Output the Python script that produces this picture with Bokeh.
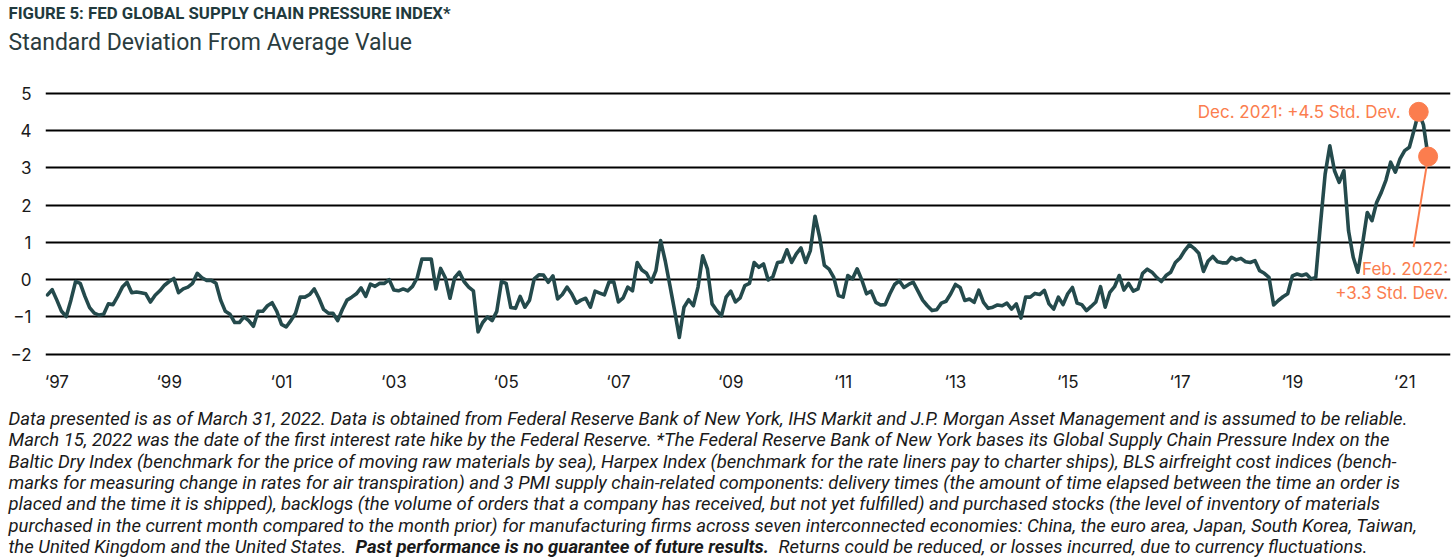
import numpy as np
import pandas as pd
from bokeh.plotting import figure
from bokeh.layouts import column
from bokeh.models import Range1d, FixedTicker, Label
from bokeh.core.properties import value
from bokeh.embed import file_html
from bokeh.resources import INLINE

# ---------------- data ----------------
start_month = "1997-07"
gscpi = [
    -0.41, -0.27, -0.55, -0.85, -0.99, -0.55, -0.05, -0.10, -0.45, -0.75,
    -0.90, -0.95, -0.93, -0.65, -0.67, -0.45, -0.20, -0.07, -0.35, -0.33,
    -0.35, -0.38, -0.60, -0.42, -0.30, -0.15, -0.05, 0.03, -0.35, -0.25,
    -0.20, -0.10, 0.17, 0.05, -0.02, -0.02, -0.10, -0.55, -0.85, -0.93,
    -1.15, -1.15, -1.00, -1.10, -1.25, -0.85, -0.85, -0.70, -0.62, -0.85,
    -1.20, -1.27, -1.10, -0.90, -0.47, -0.47, -0.40, -0.25, -0.50, -0.80,
    -0.90, -0.90, -1.10, -0.80, -0.55, -0.47, -0.38, -0.22, -0.45, -0.12,
    -0.18, -0.10, -0.10, 0.00, -0.28, -0.30, -0.25, -0.30, -0.18, 0.05,
    0.55, 0.55, 0.55, -0.25, 0.30, 0.05, -0.50, 0.05, 0.20, -0.05,
    -0.20, -0.30, -1.40, -1.15, -1.00, -1.10, -0.85, -0.05, -0.10, -0.75,
    -0.77, -0.45, -0.74, -0.55, 0.02, 0.13, 0.12, -0.07, 0.10, -0.52,
    -0.40, -0.20, -0.38, -0.63, -0.55, -0.50, -0.74, -0.31, -0.36, -0.41,
    -0.06, -0.06, -0.60, -0.49, -0.20, -0.30, 0.46, 0.26, 0.17, -0.07,
    0.24, 1.05, 0.50, -0.16, -0.83, -1.55, -0.74, -0.54, -0.70, -0.20,
    0.64, 0.29, -0.65, -0.83, -0.97, -0.47, -0.31, -0.60, -0.49, -0.16,
    -0.10, 0.46, 0.33, 0.42, -0.01, 0.08, 0.46, 0.48, 0.80, 0.46,
    0.69, 0.85, 0.46, 0.78, 1.70, 1.13, 0.38, 0.28, 0.06, -0.43,
    -0.47, 0.11, 0.02, 0.29, -0.01, -0.38, -0.31, -0.61, -0.68, -0.67,
    -0.38, -0.13, -0.03, -0.21, -0.13, -0.07, -0.31, -0.55, -0.70, -0.83,
    -0.81, -0.63, -0.58, -0.38, -0.13, -0.21, -0.56, -0.52, -0.61, -0.28,
    -0.61, -0.77, -0.74, -0.68, -0.70, -0.63, -0.79, -0.65, -1.03, -0.47,
    -0.47, -0.37, -0.40, -0.29, -0.65, -0.79, -0.47, -0.67, -0.38, -0.21,
    -0.63, -0.67, -0.83, -0.72, -0.60, -0.19, -0.74, -0.34, -0.19, 0.11,
    -0.28, -0.10, -0.31, -0.25, 0.17, 0.28, 0.20, 0.06, -0.05, 0.11,
    0.20, 0.46, 0.58, 0.78, 0.94, 0.84, 0.71, 0.22, 0.50, 0.62,
    0.48, 0.45, 0.45, 0.60, 0.53, 0.57, 0.48, 0.46, 0.51, 0.24,
    0.17, 0.06, -0.68, -0.56, -0.46, -0.38, 0.10, 0.15, 0.11, 0.15,
    0.02, 0.06, 1.49, 2.83, 3.59, 2.92, 2.61, 2.92, 1.31, 0.60,
    0.20, 0.96, 1.80, 1.58, 2.07, 2.34, 2.67, 3.15, 2.88, 3.24,
    3.46, 3.55, 4.01, 4.50, 4.15, 3.30,
]
tick_months = ["1997-09", "1999-09", "2001-09", "2003-09", "2005-09", "2007-09",
               "2009-09", "2011-09", "2013-09", "2015-09", "2017-09", "2019-09", "2021-09"]
tick_labels = ["\u201897", "\u201899", "\u201801", "\u201803", "\u201805", "\u201807",
               "\u201809", "\u201811", "\u201813", "\u201815", "\u201817", "\u201819", "\u201821"]
y_ticks = [-2, -1, 0, 1, 2, 3, 4, 5]
peak_month = "2021-12"
last_month = "2022-02"
peak_text = "Dec. 2021: +4.5 Std. Dev."
last_text = ["Feb. 2022:", "+3.3 Std. Dev."]

title = "FIGURE 5: FED GLOBAL SUPPLY CHAIN PRESSURE INDEX*"
subtitle = "Standard Deviation From Average Value"
notes = [
    "Data presented is as of March 31, 2022. Data is obtained from Federal Reserve Bank of New York, IHS Markit and J.P. Morgan Asset Management and is assumed to be reliable.",
    "March 15, 2022 was the date of the first interest rate hike by the Federal Reserve. *The Federal Reserve Bank of New York bases its  Global Supply Chain Pressure Index on the",
    "Baltic Dry Index (benchmark for the price of moving raw materials by sea), Harpex Index (benchmark for the rate liners pay to charter ships), BLS airfreight cost indices (bench-",
    "marks for measuring change in rates for air transpiration) and 3 PMI supply chain-related components: delivery times (the amount of time elapsed between the time an order is",
    "placed and the time it is shipped), backlogs (the volume of orders that a company has received, but not yet fulfilled) and purchased stocks (the level of inventory of materials",
    "purchased in the current month compared to the month prior) for manufacturing firms across seven interconnected economies: China, the euro area, Japan, South Korea, Taiwan,",
]
last_note = ["the United Kingdom and the United States.",
             "Past performance is no guarantee of future results.",
             "Returns could be reduced, or losses incurred, due to currency fluctuations."]

# ---------------- helpers ----------------
p0 = pd.Period(start_month, freq="M")
def idx(m):
    return (pd.Period(m, freq="M") - p0).n

x = np.arange(len(gscpi))

LINE = "#244a4c"
ORANGE = "#fb7d4e"
DARK = "#213a3d"
TXT = "#1a1a1a"
W = 1455

def no_align(f):
    try:
        f.frame_align = False
    except Exception:
        pass

def text_fig(h):
    f = figure(width=W, height=h, output_backend="svg", toolbar_location=None,
               x_range=Range1d(0, W), y_range=Range1d(h, 0),
               x_axis_location=None, y_axis_location=None, title_location=None,
               min_border=0, min_border_left=0, min_border_right=0,
               min_border_top=0, min_border_bottom=0)
    f.grid.visible = False
    f.outline_line_color = None
    f.background_fill_color = "white"
    f.border_fill_color = "white"
    no_align(f)
    return f

# ---- header ----
HEAD_H = 70
head = text_fig(HEAD_H)
head.text(x=[8], y=[12.5], text=[title], text_font=value("Roboto"), text_font_style="bold",
          text_font_size="16.8px", text_color=DARK, text_baseline="middle")
head.text(x=[8], y=[42.0], text=[subtitle], text_font=value("Roboto"),
          text_font_size="23px", text_color="#2a3c3e", text_baseline="middle")

# ---- main chart ----
MAIN_TOP = HEAD_H
MAIN_H = 325
TOP, LEFT, RIGHT = 15, 45, 5
FRAME_H = 277
p = figure(width=W, height=MAIN_H, output_backend="svg", toolbar_location=None,
           x_range=Range1d(-2 / 4.68, 1403 / 4.68), y_range=Range1d(-2.2225, 5.206),
           min_border_left=LEFT, min_border_right=RIGHT, min_border_top=TOP,
           min_border_bottom=MAIN_H - TOP - FRAME_H)
no_align(p)
p.title.visible = False
p.outline_line_color = None
p.background_fill_color = "white"
p.border_fill_color = "white"

p.xgrid.visible = False
p.ygrid.ticker = FixedTicker(ticks=y_ticks)
p.ygrid.grid_line_color = "black"
p.ygrid.grid_line_width = 2

p.yaxis.ticker = FixedTicker(ticks=y_ticks)
p.xaxis.ticker = FixedTicker(ticks=[idx(m) for m in tick_months])
p.xaxis.major_label_overrides = {idx(m): lab for m, lab in zip(tick_months, tick_labels)}
for ax in (p.xaxis[0], p.yaxis[0]):
    ax.axis_line_color = None
    ax.major_tick_line_color = None
    ax.minor_tick_line_color = None
    ax.major_tick_out = 0
    ax.major_tick_in = 0
    ax.minor_tick_out = 0
    ax.major_label_text_font = "Inter"
    ax.major_label_text_font_size = "17px"
    ax.major_label_text_color = TXT
p.yaxis.major_label_standoff = 14
p.xaxis.major_label_standoff = 9

p.line(x, gscpi, line_color=LINE, line_width=3.6, line_join="round", line_cap="round")

ip, il = idx(peak_month), idx(last_month)
p.segment(x0=[il], y0=[gscpi[il]], x1=[il - 3.1], y1=[gscpi[il] - 2.43],
          line_color=ORANGE, line_width=2)
p.scatter([ip, il], [gscpi[ip], gscpi[il]], size=19, color=ORANGE)

p.add_layout(Label(x=ip, y=gscpi[ip], text=peak_text, x_offset=-18, y_offset=0,
                   text_align="right", text_baseline="middle", text_font="Inter",
                   text_font_size="17px", text_color=ORANGE))
for k, t in enumerate(last_text):
    p.add_layout(Label(x=il, y=gscpi[il], text=t, x_offset=20, y_offset=-112 - 24 * k,
                       text_align="right", text_baseline="middle", text_font="Inter",
                       text_font_size="17px", text_color=ORANGE))

# ---- footnote ----
FOOT_TOP = MAIN_TOP + MAIN_H
FOOT_H = 560 - FOOT_TOP
foot = text_fig(FOOT_H)
NOTE_KW = dict(text_font=value("Roboto"), text_font_size="18.5px", text_color=TXT,
               text_baseline="middle")
mid0 = 418.5 - FOOT_TOP
for k, t in enumerate(notes):
    foot.text(x=[8], y=[mid0 + 21.3 * k], text=[t], text_font_style="italic", **NOTE_KW)
yl = mid0 + 21.3 * 6
foot.text(x=[8], y=[yl], text=[last_note[0]], text_font_style="italic", **NOTE_KW)
foot.text(x=[355], y=[yl], text=[last_note[1]], text_font_style="bold italic", **NOTE_KW)
foot.text(x=[778], y=[yl], text=[last_note[2]], text_font_style="italic", **NOTE_KW)

layout = column(head, p, foot, spacing=0)
open("out.html", "w").write(file_html(layout, INLINE))
